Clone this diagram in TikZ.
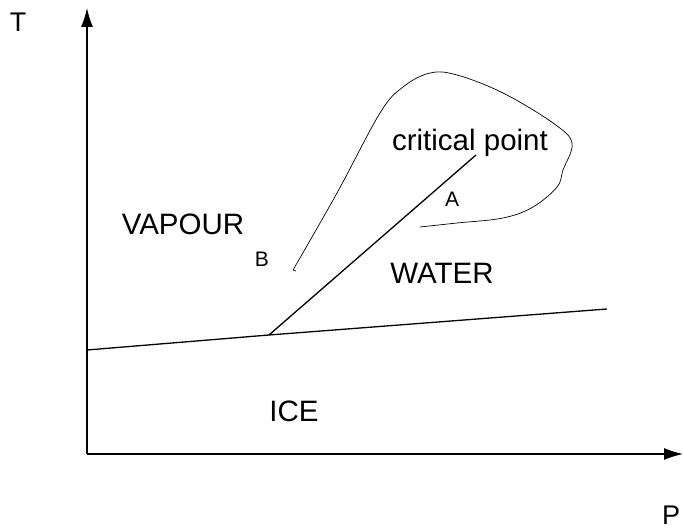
\documentclass[tikz,border=0pt]{standalone}
\usepackage{fontspec}
\setmainfont{Liberation Sans}
\usepackage{tikz}
\usetikzlibrary{positioning,arrows.meta,calc}

\begin{document}
\begin{tikzpicture}[x=1pt, y=-1pt,
    phase/.style={font=\fontsize{29.5}{31}\selectfont, inner sep=0pt},
    pnt/.style={font=\fontsize{21}{23}\selectfont, inner sep=0pt},
    axlbl/.style={font=\fontsize{27}{29}\selectfont, inner sep=0pt},
    axis/.style={-{Latex[length=19pt, width=12pt]}, line width=1.3pt},
    bound/.style={line width=1.3pt},
    loop/.style={line width=0.7pt}
]
\useasboundingbox (0,0) rectangle (683,529);
% axes
\coordinate (orig)  at (87,454);
\coordinate (ttip)  at (87,8);
\coordinate (ptip)  at (683,454);
\draw[axis] (orig) -- (ttip);
\draw[axis] (orig) -- (ptip);
\node[axlbl] (tlbl) at (18,22)  {T};
\node[axlbl] (plbl) at (671,515) {P};
% phase boundaries
\coordinate (ice0)   at (87,350);
\coordinate (triple) at (269,335);
\coordinate (ice1)   at (607,309);
\coordinate (crit)   at (476,155);
\draw[bound] (ice0) -- (triple) -- (ice1);
\draw[bound] (triple) -- (crit);
% loop round the critical point
\draw[loop] plot[smooth, tension=0.6] coordinates {
    (293,270) (337,193) (380,113) (403,87) (430,73) (457,75)
    (503,93) (553,123) (572,143) (563,170) (557,187) (533,207)
    (503,218) (457,223) (420,227)};
\draw[loop] (293,270) -- (296,271);
% labels
\node[phase] (vap)  at (183,224) {VAPOUR};
\node[phase] (wat)  at (442,273) {WATER};
\node[phase] (ice)  at (294,411) {ICE};
\node[phase] (cpt)  at (470,143) {critical point};
\node[pnt]   (ptA)  at (452,199) {A};
\node[pnt]   (ptB)  at (262,259) {B};
\end{tikzpicture}
\end{document}
